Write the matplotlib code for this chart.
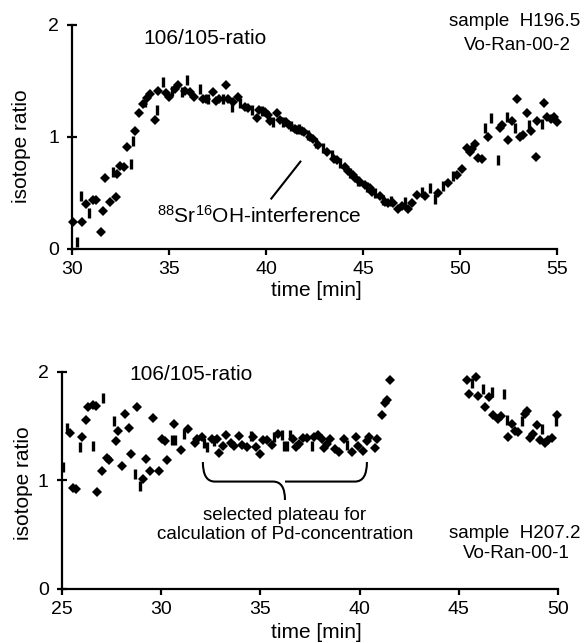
import matplotlib
matplotlib.use("Agg")
import matplotlib.pyplot as plt
from matplotlib.path import Path
from matplotlib.patches import PathPatch

plt.rcParams['font.family'] = ['Liberation Sans', 'DejaVu Sans']
plt.rcParams['mathtext.fontset'] = 'custom'
plt.rcParams['mathtext.rm'] = 'Liberation Sans'
plt.rcParams['mathtext.it'] = 'Liberation Sans:italic'

FS = 15      # titles / axis labels
FS_TICK = 14
FS_NOTE = 13.5

# --- top run: sample H196.5 (time, ratio, marker kind)
top_t = [30.04, 30.25, 30.42, 30.47, 30.70, 30.87, 31.07, 31.21, 31.45, 31.56,
         31.68, 31.93, 32.07, 32.24, 32.31, 32.45, 32.66, 32.80, 33.00, 33.10,
         33.22, 33.45, 33.62, 33.74, 33.86, 34.00, 34.26, 34.34, 34.43, 34.69,
         34.82, 35.00, 35.12, 35.29, 35.46, 35.63, 35.80, 35.89, 36.06, 36.27,
         36.58, 36.75, 36.90, 37.00, 37.27, 37.40, 37.57, 37.77, 37.90, 38.05,
         38.21, 38.30, 38.55, 38.64, 38.90, 39.07, 39.24, 39.50, 39.60, 39.76,
         39.93, 40.10, 40.19, 40.36, 40.57, 40.70, 40.84, 41.00, 41.17, 41.30,
         41.46, 41.58, 41.70, 41.85, 41.97, 42.14, 42.26, 42.43, 42.55, 42.68,
         42.94, 43.12, 43.37, 43.50, 43.63, 43.80, 44.06, 44.20, 44.32, 44.45,
         44.58, 44.71, 44.84, 45.10, 45.22, 45.35, 45.48, 45.61, 45.87, 46.00,
         46.12, 46.30, 46.42, 46.55, 46.81, 46.99, 47.16, 47.33, 47.50, 47.76,
         48.02, 48.19, 48.45, 48.70, 48.88, 49.13, 49.39, 49.65, 49.82, 50.08,
         50.34, 50.51, 50.60, 50.77, 50.94, 51.11, 51.28, 51.46, 51.58, 51.97,
         52.06, 52.15, 52.40, 52.49, 52.70, 52.83, 52.92, 53.09, 53.26, 53.47,
         53.57, 53.64, 53.92, 53.98, 54.21, 54.34, 54.47, 54.67, 54.85, 54.98]
top_ratio = [0.24, 0.06, 0.47, 0.24, 0.40, 0.32, 0.44, 0.44, 0.15, 0.34,
             0.63, 0.42, 0.69, 0.46, 0.67, 0.74, 0.73, 0.91, 0.76, 0.96,
             1.05, 1.21, 1.29, 1.31, 1.35, 1.38, 1.15, 1.24, 1.41, 1.49,
             1.39, 1.36, 1.41, 1.43, 1.46, 1.40, 1.41, 1.51, 1.40, 1.36,
             1.43, 1.34, 1.34, 1.34, 1.40, 1.32, 1.34, 1.34, 1.46, 1.34,
             1.27, 1.31, 1.36, 1.30, 1.27, 1.26, 1.24, 1.17, 1.24, 1.23,
             1.22, 1.20, 1.14, 1.13, 1.21, 1.15, 1.13, 1.13, 1.11, 1.10,
             1.07, 1.06, 1.07, 1.05, 1.04, 1.02, 1.00, 0.98, 0.95, 0.93,
             0.90, 0.87, 0.84, 0.80, 0.79, 0.77, 0.73, 0.70, 0.68, 0.66,
             0.63, 0.61, 0.60, 0.57, 0.55, 0.54, 0.51, 0.50, 0.47, 0.44,
             0.42, 0.41, 0.43, 0.41, 0.36, 0.38, 0.42, 0.36, 0.41, 0.48,
             0.51, 0.47, 0.54, 0.45, 0.50, 0.56, 0.59, 0.65, 0.66, 0.71,
             0.90, 0.87, 0.89, 0.94, 0.81, 0.80, 1.08, 1.00, 1.17, 0.79,
             1.08, 1.11, 1.18, 0.97, 1.14, 1.08, 1.34, 1.00, 1.02, 1.21,
             1.11, 1.05, 0.82, 1.14, 1.12, 1.30, 1.18, 1.16, 1.18, 1.13]
top_kind = list("D||DD|DDDD" "DD|DDDDD||" "DDD|DDD|D|" "DD|DD|D|DD"
                "|DD|DDD|DD" "|DD|DD|DD|" "DDD|DD|DD|" "DD|DD|DD|D"
                "|D|DD|DD|D" "D|DD|DD|D|" "DD|DDD|DDD" "|D||D|D|DD"
                "DDDDDD|D||" "DD|DD|DDDD" "|DDD|DDDDD")

# --- bottom run: sample H207.2
bot_t = [25.05, 25.24, 25.40, 25.57, 25.71, 25.91, 25.99, 26.21, 26.33, 26.55,
         26.58, 26.71, 26.78, 27.00, 27.05, 27.25, 27.38, 27.62, 27.72, 27.84,
         28.00, 28.18, 28.39, 28.46, 28.68, 28.80, 28.93, 29.10, 29.23, 29.44,
         29.60, 29.90, 30.03, 30.19, 30.31, 30.53, 30.65, 30.70, 30.98, 31.15,
         31.37, 31.70, 31.82, 32.04, 32.16, 32.32, 32.55, 32.66, 32.79, 32.93,
         33.13, 33.27, 33.50, 33.67, 33.94, 34.06, 34.31, 34.51, 34.61, 34.78,
         34.98, 35.12, 35.35, 35.57, 35.69, 35.90, 36.07, 36.19, 36.33, 36.49,
         36.63, 36.79, 36.96, 37.16, 37.33, 37.59, 37.70, 37.92, 38.09, 38.21,
         38.37, 38.51, 38.76, 38.98, 39.21, 39.38, 39.60, 39.82, 39.93, 40.19,
         40.39, 40.49, 40.78, 40.86, 41.11, 41.28, 41.40, 41.53,
         45.43, 45.65, 45.87, 45.53, 45.98, 46.20, 46.32, 46.54, 46.66, 46.74,
         46.99, 47.11, 47.28, 47.41, 47.50, 47.66, 47.83, 48.00, 48.17, 48.35,
         48.42, 48.59, 48.76, 48.93, 49.09, 49.18, 49.34, 49.51, 49.68, 49.90,
         49.93]
bot_ratio = [1.12, 1.48, 1.44, 0.93, 0.92, 1.31, 1.40, 1.56, 1.68, 1.32,
             1.70, 1.69, 0.89, 1.09, 1.76, 1.21, 1.19, 1.55, 1.36, 1.46,
             1.13, 1.61, 1.48, 1.24, 1.06, 1.68, 0.95, 1.01, 1.20, 1.09,
             1.58, 1.09, 1.38, 1.36, 1.19, 1.37, 1.52, 1.37, 1.28, 1.43,
             1.47, 1.35, 1.38, 1.40, 1.35, 1.31, 1.38, 1.36, 1.38, 1.25,
             1.32, 1.42, 1.35, 1.32, 1.41, 1.33, 1.31, 1.41, 1.40, 1.31,
             1.24, 1.37, 1.37, 1.33, 1.40, 1.43, 1.42, 1.32, 1.32, 1.42,
             1.38, 1.31, 1.34, 1.39, 1.39, 1.32, 1.40, 1.42, 1.38, 1.30,
             1.34, 1.38, 1.29, 1.26, 1.38, 1.33, 1.26, 1.40, 1.32, 1.27,
             1.36, 1.40, 1.30, 1.38, 1.60, 1.71, 1.74, 1.93,
             1.93, 1.90, 1.95, 1.80, 1.78, 1.84, 1.68, 1.77, 1.82, 1.60,
             1.57, 1.59, 1.80, 1.56, 1.40, 1.52, 1.46, 1.45, 1.55, 1.61,
             1.64, 1.39, 1.43, 1.51, 1.37, 1.47, 1.35, 1.37, 1.39, 1.55,
             1.60]
bot_kind = list("||DDD|DDD|" "DDDD|DD|DD" "DDDD|D|DDD" "DDDDD|D|D|"
                "DDDD||D|DD" "DDDDDDD|DD" "DDDD|D||||" "DDDDD|DDDD"
                "DDDDD|DDDD" "DDDDDDDD" "D|DDD|DD|D" "DD||DDDD|D"
                "DDDDD|DDD|" "D")


def scatter_kinds(ax, t, r, kind):
    for k, style in (('D', dict(marker='D', ms=4.8, mew=0)),
                     ('|', dict(marker='|', ms=6.5, mew=2.4))):
        xs = [a for a, b in zip(t, kind) if b == k]
        ys = [a for a, b in zip(r, kind) if b == k]
        ax.plot(xs, ys, ls='none', color='black', clip_on=False, **style)


def style_axes(ax, xlim, xticks):
    ax.set_xlim(*xlim)
    ax.set_ylim(0, 2)
    ax.set_xticks(xticks)
    ax.set_yticks([0, 1, 2])
    for s in ('top', 'right'):
        ax.spines[s].set_visible(False)
    for s in ('left', 'bottom'):
        ax.spines[s].set_linewidth(1.6)
    ax.tick_params(axis='x', direction='out', length=4, width=1.6,
                   labelsize=FS_TICK, pad=5)
    ax.tick_params(axis='y', direction='inout', length=7, width=1.6,
                   labelsize=FS_TICK, pad=6)


fig = plt.figure(figsize=(5.86, 6.43), dpi=100)

ax1 = fig.add_axes([0.1237, 0.6128, 0.8268, 0.3484])
scatter_kinds(ax1, top_t, top_ratio, top_kind)
style_axes(ax1, (30, 55), [30, 35, 40, 45, 50, 55])
ax1.text(36.84, 1.88, '106/105-ratio', ha='center', va='center', fontsize=FS)
ax1.text(52.83, 2.03, 'sample  H196.5', ha='center', va='center',
         fontsize=FS_NOTE, clip_on=False)
ax1.text(52.98, 1.82, 'Vo-Ran-00-2', ha='center', va='center',
         fontsize=FS_NOTE)
ax1.text(34.35, 0.30, r'$^{88}$Sr$^{16}$OH-interference', ha='left',
         va='center', fontsize=FS)
ax1.plot([40.26, 41.76], [0.45, 0.78], color='black', lw=1.5)

ax2 = fig.add_axes([0.1058, 0.084, 0.8464, 0.3375])
scatter_kinds(ax2, bot_t, bot_ratio, bot_kind)
style_axes(ax2, (25, 50), [25, 30, 35, 40, 45, 50])
ax2.text(31.5, 1.98, '106/105-ratio', ha='center', va='center', fontsize=FS)
ax2.text(47.83, 0.51, 'sample  H207.2', ha='center', va='center',
         fontsize=FS_NOTE)
ax2.text(47.9, 0.33, 'Vo-Ran-00-1', ha='center', va='center',
         fontsize=FS_NOTE)
ax2.text(36.24, 0.68, 'selected plateau for', ha='center', va='center',
         fontsize=FS_NOTE)
ax2.text(36.24, 0.50, 'calculation of Pd-concentration', ha='center',
         va='center', fontsize=FS_NOTE)

# curly brace under the plateau
x0, xm, x1 = 32.1, 36.24, 40.37
ytop, ymid, ytip = 1.17, 0.99, 0.82
verts = [(x0, ytop), (x0, ymid), (x0 + 0.6, ymid), (xm - 0.6, ymid),
         (xm, ymid), (xm, ytip),
         (xm, ymid), (xm + 0.6, ymid), (x1 - 0.6, ymid),
         (x1, ymid), (x1, ytop)]
codes = [Path.MOVETO, Path.CURVE3, Path.CURVE3, Path.LINETO,
         Path.CURVE3, Path.CURVE3,
         Path.MOVETO, Path.LINETO, Path.LINETO,
         Path.CURVE3, Path.CURVE3]
ax2.add_patch(PathPatch(Path(verts, codes), fill=False, lw=1.5,
                        color='black'))

fig.text(0.036, 0.773, 'isotope ratio', rotation=90, ha='center',
         va='center', fontsize=FS)
fig.text(0.040, 0.249, 'isotope ratio', rotation=90, ha='center',
         va='center', fontsize=FS)
fig.text(0.54, 0.548, 'time [min]', ha='center', va='center', fontsize=FS)
fig.text(0.54, 0.017, 'time [min]', ha='center', va='center', fontsize=FS)

fig.savefig('out.png', dpi=100)
